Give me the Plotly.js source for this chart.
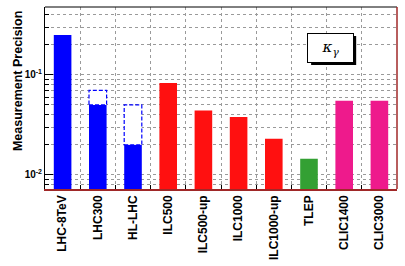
<!DOCTYPE html>
<html><head><meta charset="utf-8">
<script src="https://cdn.plot.ly/plotly-3.0.1.min.js"></script>
<style>body{margin:0;padding:0;background:#fff}#chart{width:405px;height:266px}</style>
</head><body><div id="chart"></div>
<script>
const categories = ['LHC-8TeV','LHC300','HL-LHC','ILC500','ILC500-up','ILC1000','ILC1000-up','TLEP','CLIC1400','CLIC3000'];
const precision = [0.25, 0.05, 0.02, 0.083, 0.044, 0.038, 0.023, 0.0145, 0.055, 0.055];
const barColors = ['#0000ff','#0000ff','#0000ff','#ff1010','#ff1010','#ff1010','#ff1010','#33a033','#ee1a8c','#ee1a8c'];
const rangeLow = [null, 0.05, 0.02, null, null, null, null, null, null, null];
const rangeHigh = [null, 0.07, 0.05, null, null, null, null, null, null, null];
const majorTicks = [0.01, 0.1];
const majorText = ['<b>10<sup>-2</sup></b>', '<b>10<sup>-1</sup></b>'];
const minorTicks = [];
[0.001, 0.01, 0.1].forEach(d => { for (let k = 2; k <= 9; k++) minorTicks.push(+(d*k).toPrecision(3)); });

const barWidth = 0.5;
const shapes = [];
categories.forEach((c, i) => {
  if (rangeLow[i] !== null) {
    shapes.push({type:'rect', xref:'x', yref:'y', x0:i-barWidth/2, x1:i+barWidth/2,
      y0:rangeLow[i], y1:rangeHigh[i], fillcolor:'#ffffff',
      line:{color:'#0000ff', width:1.2, dash:'4px,2px'}, layer:'above'});
  }
});
// frame
shapes.push({type:'line', xref:'paper', yref:'paper', x0:0, x1:1, y0:1, y1:1, line:{color:'#000', width:1}});
shapes.push({type:'line', xref:'paper', yref:'paper', x0:1, x1:1, y0:0, y1:1, line:{color:'#a02828', width:1.5}});
// label box shadow
shapes.push({type:'rect', xref:'paper', yref:'paper', x0:0.756, x1:0.884, y0:0.682, y1:0.841,
  fillcolor:'#000', line:{width:0}, layer:'above'});

const data = [{
  type:'bar', x:categories, y:precision, width:barWidth,
  marker:{color:barColors, line:{width:0}}, hoverinfo:'skip'
}];

const layout = {
  width:405, height:266,
  margin:{l:45, r:8, t:7, b:77},
  paper_bgcolor:'#fff', plot_bgcolor:'#fff',
  showlegend:false,
  font:{family:'Liberation Sans, Arial, sans-serif', color:'#000'},
  xaxis:{
    type:'category', tickson:'boundaries', ticks:'inside', ticklen:4, tickcolor:'#000',
    tickangle:-90, tickfont:{size:12, weight:'bold'},
    showgrid:true, gridcolor:'#9a9a9a', griddash:'dot', gridwidth:1,
    showline:true, linecolor:'#a02828', linewidth:1.5, mirror:false,
    range:[-0.5, 9.5], zeroline:false
  },
  yaxis:{
    type:'log', range:[-2.14, -0.323],
    tickmode:'array', tickvals:majorTicks, ticktext:majorText,
    ticks:'inside', ticklen:8, tickcolor:'#000', tickfont:{size:10},
    showgrid:true, gridcolor:'#9a9a9a', griddash:'dot', gridwidth:1,
    minor:{tickmode:'array', tickvals:minorTicks, ticks:'inside', ticklen:4, tickcolor:'#000',
      showgrid:true, gridcolor:'#9a9a9a', griddash:'dot', gridwidth:1},
    showline:true, linecolor:'#000', linewidth:1, mirror:false, zeroline:false
  },
  shapes:shapes,
  annotations:[{
    xref:'paper', yref:'paper', x:0.811, y:0.777, xanchor:'center', yanchor:'middle',
    text:'<i>κ<sub>γ</sub></i>', showarrow:false, font:{size:15, family:'DejaVu Serif, serif'},
    bgcolor:'#fff', bordercolor:'#000', borderwidth:1, width:43, height:26
  },{
    xref:'paper', yref:'paper', x:-0.076, y:0.99, xanchor:'center', yanchor:'top',
    textangle:-90, text:'<b>Measurement Precision</b>', showarrow:false, font:{size:12.5}
  }]
};
Plotly.newPlot('chart', data, layout, {displayModeBar:false, staticPlot:true});
</script></body></html>
